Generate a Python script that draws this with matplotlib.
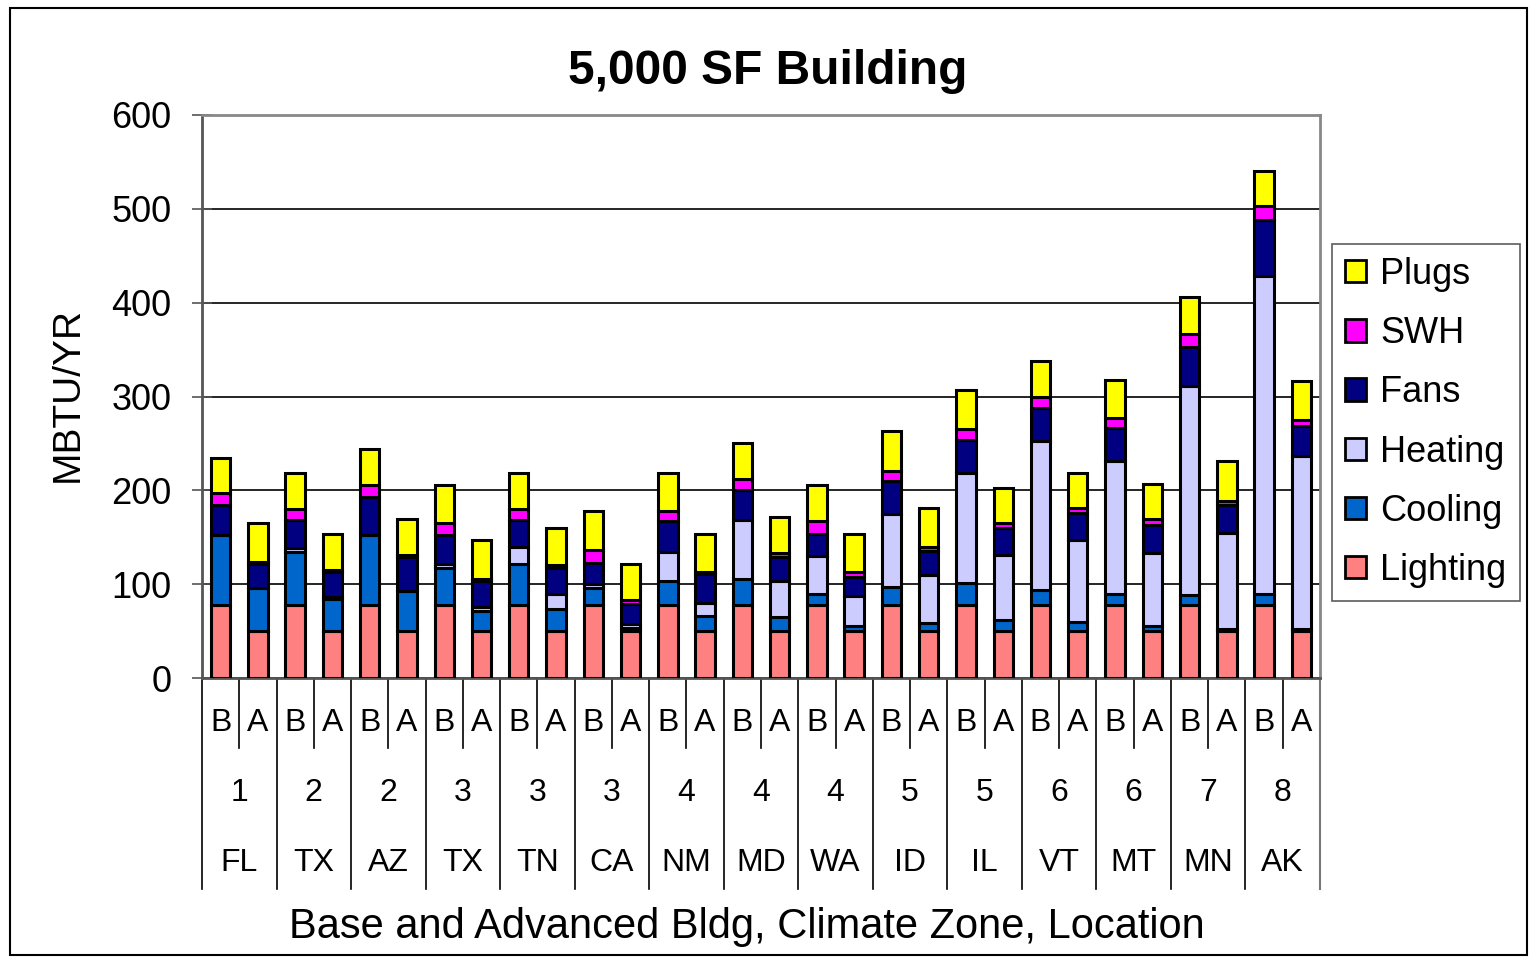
import matplotlib
matplotlib.use("Agg")
import matplotlib.pyplot as plt
from matplotlib.patches import Rectangle, Patch
import numpy as np

plt.rcParams['font.family'] = ['Liberation Sans', 'DejaVu Sans']

# categories
locations = ['FL', 'TX', 'AZ', 'TX', 'TN', 'CA', 'NM', 'MD', 'WA', 'ID', 'IL', 'VT', 'MT', 'MN', 'AK']
zones = ['1', '2', '2', '3', '3', '3', '4', '4', '4', '5', '5', '6', '6', '7', '8']
bldg = ['B', 'A']

# end uses, MBTU/YR, pairs of (Base, Advanced) per location
lighting = [78, 50, 78, 50, 78, 50, 78, 50, 78, 50, 78, 50, 78, 50, 78, 50,
            78, 50, 78, 50, 78, 50, 78, 50, 78, 50, 78, 50, 78, 50]
cooling = [74, 46, 56, 34, 74, 43, 39, 21, 43, 24, 18, 3, 25, 16, 28, 15,
           12, 5, 19, 9, 23, 12, 16, 10, 11, 5, 10, 2, 12, 2]
heating = [0, 0, 5, 2, 0, 0, 4, 5, 19, 15, 4, 5, 31, 14, 62, 38,
           40, 32, 78, 51, 117, 69, 159, 87, 142, 78, 223, 103, 338, 185]
fans = [32, 26, 29, 27, 41, 36, 31, 27, 28, 28, 23, 21, 33, 31, 32, 26,
        23, 21, 35, 25, 36, 29, 35, 29, 35, 30, 42, 29, 60, 32]
swh = [13, 2, 12, 2, 13, 2, 13, 2, 12, 3, 13, 4, 11, 2, 12, 4,
       14, 5, 11, 5, 11, 5, 12, 5, 11, 6, 14, 5, 15, 6]
plugs = [37, 41, 39, 38, 38, 38, 41, 42, 39, 40, 42, 38, 41, 40, 38, 39,
         39, 40, 42, 41, 42, 38, 38, 38, 41, 38, 39, 42, 37, 41]

series = [('Lighting', lighting, '#FF8080'),
          ('Cooling', cooling, '#0066CC'),
          ('Heating', heating, '#CCCCFF'),
          ('Fans', fans, '#000080'),
          ('SWH', swh, '#FF00FF'),
          ('Plugs', plugs, '#FFFF00')]

fig = plt.figure(figsize=(15.35, 9.57), dpi=100)
ax = fig.add_axes([202/1535, 1-678/957, (1320-202)/1535, (678-115)/957])

x = np.arange(len(lighting))
bottom = np.zeros(len(x))
for name, vals, col in series:
    ax.bar(x, vals, 0.52, bottom=bottom, color=col, edgecolor='black',
           linewidth=2.2, label=name, zorder=3)
    bottom += np.array(vals)

ax.set_xlim(-0.5, len(x) - 0.5)
ax.set_ylim(0, 600)
ax.set_yticks(range(0, 601, 100))
ax.yaxis.grid(True, color='black', linewidth=1.2, zorder=0)
ax.set_xticks([])
ax.tick_params(axis='y', labelsize=26, direction='inout', length=14, width=1.2,
               color='#555555', pad=15)
for s in ['top', 'right']:
    ax.spines[s].set_color('#888888')
    ax.spines[s].set_linewidth(2)
ax.spines['left'].set_color('#555555')
ax.spines['left'].set_linewidth(2)
ax.spines['bottom'].set_color('#555555')
ax.spines['bottom'].set_linewidth(2)

# multi-level category labels
tr = ax.get_xaxis_transform()
h = 678 - 115
y_row1 = -(723 - 678) / h
y_row2 = -(793 - 678) / h
y_row3 = -(863 - 678) / h
y_short = -(748 - 678) / h
y_long = -(889 - 678) / h
for i in x:
    ax.text(i, y_row1, bldg[i % 2], transform=tr, ha='center', va='center', fontsize=23)
for g in range(len(locations)):
    c = 2 * g + 0.5
    ax.text(c, y_row2, zones[g], transform=tr, ha='center', va='center', fontsize=23)
    ax.text(c, y_row3, locations[g], transform=tr, ha='center', va='center', fontsize=23)
    ax.plot([c, c], [0, y_short], transform=tr, color='black', lw=1.2, clip_on=False)
    ax.plot([2 * g - 0.5] * 2, [0, y_long], transform=tr, color='black', lw=1.2, clip_on=False)
ax.plot([len(x) - 0.5] * 2, [0, y_long], transform=tr, color='#777777', lw=1.5, clip_on=False)

fig.text(0.5003, 1 - 72/957, '5,000 SF Building', ha='center', va='center',
         fontsize=34.5, fontweight='bold')
fig.text(747/1535, 1 - 927/957, 'Base and Advanced Bldg, Climate Zone, Location',
         ha='center', va='center', fontsize=30)
fig.text(68/1535, 1 - 395/957, 'MBTU/YR', ha='center', va='center',
         rotation=90, fontsize=28)

handles = [Patch(facecolor=col, edgecolor='black', linewidth=2, label=name)
           for name, vals, col in series][::-1]
leg = fig.legend(handles=handles, loc='upper left',
                 bbox_to_anchor=(1332/1535, 1 - 244/957), fontsize=26,
                 frameon=True, fancybox=False, edgecolor='#333333',
                 handlelength=0.58, handleheight=0.58, handletextpad=0.4,
                 labelspacing=0.67, borderpad=0.36, borderaxespad=0)
leg.get_frame().set_linewidth(1.2)

fig.patches.append(Rectangle((10/1535, 1 - 955/957), 1517/1535, 947/957,
                             transform=fig.transFigure, fill=False,
                             edgecolor='black', linewidth=1.5))

fig.savefig('out.png', dpi=100)
